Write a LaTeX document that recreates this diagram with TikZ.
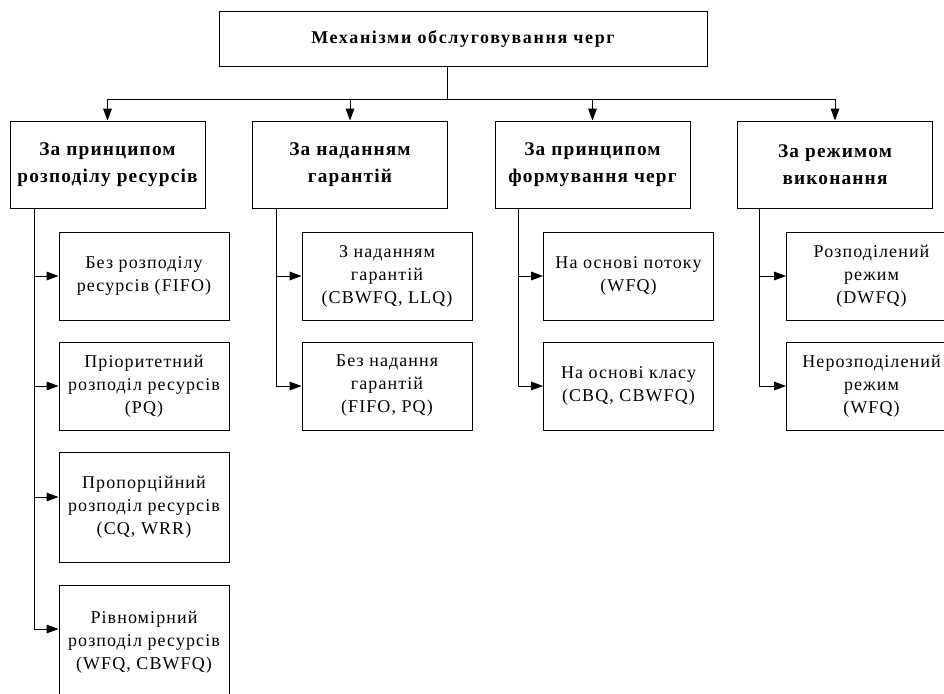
\documentclass[tikz,border=0pt]{standalone}
\usepackage{fontspec}
\setmainfont{Liberation Serif}
\newfontfamily\spacedfont[LetterSpace=6]{Liberation Serif}
\newfontfamily\widefont[LetterSpace=9]{Liberation Serif}
\usetikzlibrary{positioning,arrows.meta}

\tikzset{
  box/.style={draw, rectangle, inner sep=0pt, align=center, line width=0.7pt},
  topbox/.style={box, minimum width=366pt, minimum height=41.25pt,
    font=\widefont\fontsize{13.5}{16}\selectfont\bfseries},
  mainbox/.style={box, minimum width=146.25pt, minimum height=65.25pt,
    font=\spacedfont\fontsize{14.5}{20.25}\selectfont\bfseries},
  subbox/.style={box, minimum width=127.5pt, minimum height=66pt,
    font=\spacedfont\fontsize{13.5}{17.25}\selectfont},
  arr/.style={line width=0.7pt, -{Triangle[length=9pt,width=6.5pt]}},
  line/.style={line width=0.7pt}
}

\begin{document}
\begin{tikzpicture}[x=0.75pt, y=-0.75pt]
  \useasboundingbox (0,0) rectangle (944,693);
  \clip (0,0) rectangle (944,693);

  % Top level
  \node[topbox] (top) at (463,38.5) {Механізми обслуговування черг};

  % Classification criteria
  \node[mainbox] (b1) at (107.5,164.5) {За принципом\\розподілу ресурсів};
  \node[mainbox] (b2) at (350,164.5) {За наданням\\гарантій};
  \node[mainbox] (b3) at (592.5,164.5) {За принципом\\формування черг};
  \node[mainbox] (b4) at (835,164.5) {За режимом\\виконання};

  % Bus
  \coordinate (bus) at (447,99);
  \draw[line] (top.south -| bus) -- (bus);
  \draw[arr] (bus) -| (b1.north);
  \draw[arr] (bus) -| (b2.north);
  \draw[arr] (bus) -| (b3.north);
  \draw[arr] (bus) -| (b4.north);

  % Resource distribution
  \node[subbox] (s11) at (144,276) {Без розподілу\\ресурсів (FIFO)};
  \node[subbox] (s12) at (144,386) {Пріоритетний\\розподіл ресурсів\\(PQ)};
  \node[subbox, minimum height=82.5pt] (s13) at (144,507) {Пропорційний\\розподіл ресурсів\\(CQ, WRR)};
  \node[subbox, minimum height=85.5pt] (s14) at (144,642) {Рівномірний\\розподіл ресурсів\\(WFQ, CBWFQ)};

  \draw[arr] ([xshift=18.75pt]b1.south west) |- (s11.west);
  \draw[arr] ([xshift=18.75pt]b1.south west) |- (s12.west);
  \draw[arr] ([xshift=18.75pt]b1.south west) |- ([yshift=7.5pt]s13.west);
  \draw[arr] ([xshift=18.75pt]b1.south west) |- ([yshift=9.75pt]s14.west);

  % Guarantees
  \node[subbox] (s21) at (387,276) {З наданням\\гарантій\\(CBWFQ, LLQ)};
  \node[subbox] (s22) at (387,386) {Без надання\\гарантій\\(FIFO, PQ)};

  \draw[arr] ([xshift=18pt]b2.south west) |- (s21.west);
  \draw[arr] ([xshift=18pt]b2.south west) |- (s22.west);

  % Queue forming
  \node[subbox] (s31) at (628.5,276) {На основі потоку\\(WFQ)};
  \node[subbox] (s32) at (628.5,386) {На основі класу\\(CBQ, CBWFQ)};

  \draw[arr] ([xshift=18pt]b3.south west) |- (s31.west);
  \draw[arr] ([xshift=18pt]b3.south west) |- (s32.west);

  % Execution mode
  \node[subbox] (s41) at (871.5,276) {Розподілений\\режим\\(DWFQ)};
  \node[subbox] (s42) at (871.5,386) {Нерозподілений\\режим\\(WFQ)};

  \draw[arr] ([xshift=16.5pt]b4.south west) |- (s41.west);
  \draw[arr] ([xshift=16.5pt]b4.south west) |- (s42.west);
\end{tikzpicture}
\end{document}
